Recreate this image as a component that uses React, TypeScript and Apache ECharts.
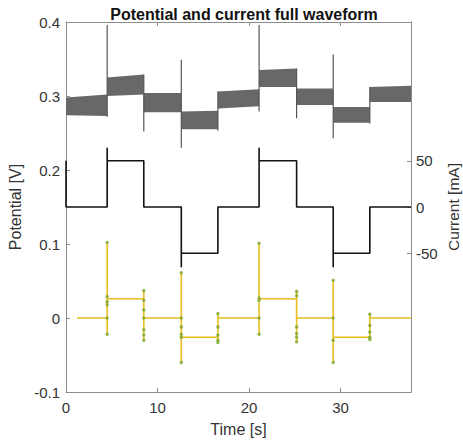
import React, { useEffect, useRef } from "react";
import * as echarts from "echarts";

// ---- data ----
const timeTicks = [0, 10, 20, 30];
const currentTicks = [-50, 0, 50];
const stepTimes = [0, 4.5, 8.5, 12.6, 16.6, 21.1, 25.2, 29.2, 33.2, 37.7];
// Potential band (oscillating waveform envelope) per step segment
const bandTopStart = [0.298, 0.325, 0.304, 0.279, 0.306, 0.335, 0.31, 0.285, 0.312];
const bandTopEnd = [0.302, 0.329, 0.304, 0.28, 0.309, 0.337, 0.31, 0.285, 0.314];
const bandBottomStart = [0.274, 0.3, 0.278, 0.255, 0.283, 0.312, 0.288, 0.264, 0.292];
const bandBottomEnd = [0.273, 0.302, 0.278, 0.255, 0.286, 0.312, 0.288, 0.264, 0.292];
// Potential spikes at each transition (stepTimes[1..8])
const spikeTop = [0.396, 0.329, 0.349, 0.306, 0.396, 0.337, 0.356, 0.312];
const spikeBottom = [0.272, 0.252, 0.23, 0.253, 0.279, 0.27, 0.243, 0.263];
// Current square wave [t, mA]
const currentPath = [
  [0, 50], [0, 0], [4.5, 0], [4.5, 64], [4.5, 50], [8.5, 50], [8.5, 0],
  [12.6, 0], [12.6, -65], [12.6, -50], [16.6, -50], [16.6, 0],
  [21.1, 0], [21.1, 64], [21.1, 50], [25.2, 50], [25.2, 0],
  [29.2, 0], [29.2, -65], [29.2, -50], [33.2, -50], [33.2, 0], [37.7, 0],
];
// Yellow step trace [t, V]
const yellowPath = [
  [1.2, 0], [4.5, 0], [4.5, 0.102], [4.5, -0.022], [4.5, 0.026],
  [8.5, 0.026], [8.5, 0.037], [8.5, -0.03], [8.5, 0],
  [12.6, 0], [12.6, 0.061], [12.6, -0.06], [12.6, -0.026],
  [16.6, -0.026], [16.6, 0.006], [16.6, -0.033], [16.6, 0],
  [21.1, 0], [21.1, 0.101], [21.1, -0.022], [21.1, 0.026],
  [25.2, 0.026], [25.2, 0.036], [25.2, -0.032], [25.2, 0],
  [29.2, 0], [29.2, 0.051], [29.2, -0.06], [29.2, -0.026],
  [33.2, -0.026], [33.2, 0.005], [33.2, -0.029], [33.2, 0], [37.7, 0],
];
// Green markers on the yellow trace [t, V]
const yellowMarkers = [
  [4.5, 0.102], [4.5, 0.029], [4.5, 0.022], [4.5, 0.018], [4.5, 0], [4.5, -0.022],
  [8.5, 0.037], [8.5, 0.024], [8.5, 0.011], [8.5, 0], [8.5, -0.016], [8.5, -0.023], [8.5, -0.03],
  [12.6, 0.061], [12.6, 0], [12.6, -0.012], [12.6, -0.022], [12.6, -0.026], [12.6, -0.06],
  [16.6, 0.006], [16.6, -0.012], [16.6, -0.023], [16.6, -0.03], [16.6, -0.033],
  [21.1, 0.101], [21.1, 0.027], [21.1, 0.024], [21.1, 0], [21.1, -0.022],
  [25.2, 0.036], [25.2, 0.03], [25.2, -0.012], [25.2, -0.021], [25.2, -0.026], [25.2, -0.032],
  [29.2, 0.051], [29.2, 0], [29.2, -0.03], [29.2, -0.06],
  [33.2, 0.005], [33.2, -0.01], [33.2, -0.019], [33.2, -0.026], [33.2, -0.029],
];

const FONT = "'Liberation Sans', Arial, Helvetica, sans-serif";
const AXIS_GRAY = "#8c8c8c";
const TEXT = "#333";

export default function App() {
  const ref = useRef<HTMLDivElement>(null);
  useEffect(() => {
    if (!ref.current) return;
    const chart = echarts.init(ref.current, undefined, { renderer: "svg" });

    const bandData = bandTopStart.map((_, i) => [
      stepTimes[i], stepTimes[i + 1], bandBottomStart[i], bandTopStart[i], bandBottomEnd[i], bandTopEnd[i],
    ]);
    const spikeData = spikeTop.map((_, i) => [stepTimes[i + 1], spikeBottom[i], spikeTop[i]]);

    chart.setOption({
      animation: false,
      backgroundColor: "#fff",
      textStyle: { fontFamily: FONT },
      title: {
        text: "Potential and current full waveform",
        left: 239,
        textAlign: "center",
        top: 1,
        textStyle: { fontSize: 16, fontWeight: "bold", color: "#111", fontFamily: FONT },
      },
      grid: { left: 66, right: 52, top: 22, bottom: 52, containLabel: false, outerBoundsMode: "none" },
      xAxis: [
        {
          type: "value", min: 0, max: 37.7, position: "bottom",
          axisLine: { show: true, onZero: false, lineStyle: { color: AXIS_GRAY } },
          axisTick: { show: true, inside: true, length: 4, customValues: timeTicks, lineStyle: { color: AXIS_GRAY } },
          axisLabel: { customValues: timeTicks, fontSize: 15, color: TEXT, margin: 8, fontFamily: FONT },
          splitLine: { show: false },
          name: "Time [s]", nameLocation: "middle", nameGap: 29,
          nameTextStyle: { fontSize: 16, color: TEXT, fontFamily: FONT },
        },
        {
          type: "value", min: 0, max: 37.7, position: "top",
          axisLine: { show: true, onZero: false, lineStyle: { color: AXIS_GRAY } },
          axisTick: { show: true, inside: true, length: 4, customValues: timeTicks, lineStyle: { color: AXIS_GRAY } },
          axisLabel: { show: false },
          splitLine: { show: false },
        },
      ],
      yAxis: [
        {
          type: "value", min: -0.1, max: 0.4, interval: 0.1, position: "left",
          axisLine: { show: true, onZero: false, lineStyle: { color: AXIS_GRAY } },
          axisTick: { show: true, inside: true, length: 4, lineStyle: { color: AXIS_GRAY } },
          axisLabel: {
            fontSize: 15, color: TEXT, margin: 6, fontFamily: FONT,
            formatter: (v: number) => (Math.abs(v) < 1e-9 ? "0" : String(+v.toFixed(1))),
          },
          splitLine: { show: false },
          name: "Potential [V]", nameLocation: "middle", nameGap: 38,
          nameTextStyle: { fontSize: 16, color: TEXT, fontFamily: FONT },
        },
        {
          type: "value", min: -200, max: 200, interval: 50, position: "right",
          axisLine: { show: true, onZero: false, lineStyle: { color: AXIS_GRAY } },
          axisTick: { show: true, inside: true, length: 4, customValues: currentTicks, lineStyle: { color: AXIS_GRAY } },
          axisLabel: { customValues: currentTicks, fontSize: 15, color: TEXT, margin: 5, fontFamily: FONT },
          splitLine: { show: false },
          name: "Current [mA]", nameLocation: "middle", nameGap: 34, nameMoveOverlap: false,
          nameTextStyle: { fontSize: 15.5, lineHeight: 16, color: TEXT, fontFamily: FONT },
        },
      ],
      series: [
        {
          type: "custom", xAxisIndex: 0, yAxisIndex: 0, z: 1,
          data: bandData,
          encode: { x: [0, 1], y: [2, 3, 4, 5] },
          renderItem: (params: any, api: any) => {
            const t0 = api.value(0), t1 = api.value(1);
            const pts = [
              api.coord([t0, api.value(2)]),
              api.coord([t1, api.value(4)]),
              api.coord([t1, api.value(5)]),
              api.coord([t0, api.value(3)]),
            ];
            return { type: "polygon", shape: { points: pts }, style: { fill: "#686868" } };
          },
        },
        {
          type: "custom", xAxisIndex: 0, yAxisIndex: 0, z: 2,
          data: spikeData,
          encode: { x: 0, y: [1, 2] },
          renderItem: (params: any, api: any) => {
            const a = api.coord([api.value(0), api.value(1)]);
            const b = api.coord([api.value(0), api.value(2)]);
            return {
              type: "line",
              shape: { x1: a[0], y1: a[1], x2: b[0], y2: b[1] },
              style: { stroke: "#555", lineWidth: 1.2 },
            };
          },
        },
        {
          type: "line", xAxisIndex: 0, yAxisIndex: 1, z: 3,
          data: currentPath, showSymbol: false, symbol: "none",
          lineStyle: { color: "#111", width: 1.6 },
        },
        {
          type: "line", xAxisIndex: 0, yAxisIndex: 0, z: 4,
          data: yellowPath, showSymbol: false, symbol: "none",
          lineStyle: { color: "#E8BE1C", width: 1.6 },
        },
        {
          type: "scatter", xAxisIndex: 0, yAxisIndex: 0, z: 5,
          data: yellowMarkers, symbol: "circle", symbolSize: 3.5,
          itemStyle: { color: "#7FA834", opacity: 0.8 },
        },
      ],
    });
    return () => chart.dispose();
  }, []);
  return <div ref={ref} style={{ position: "fixed", left: 0, top: 0, width: 463, height: 444 }} />;
}
